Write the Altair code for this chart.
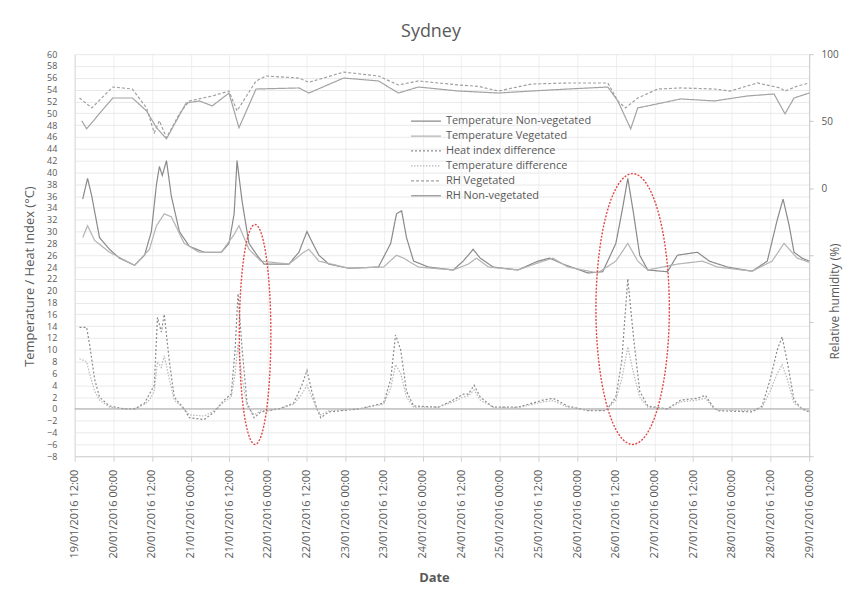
import altair as alt
import numpy as np
import pandas as pd

START = pd.Timestamp("2016-01-19 12:00")

SERIES = ["Temperature Non-vegetated", "Temperature Vegetated", "Heat index difference",
          "Temperature difference", "RH Vegetated", "RH Non-vegetated"]
COLORS = ["#8a8a8a", "#b3b3b3", "#8a8a8a", "#b8b8b8", "#a0a0a0", "#a3a3a3"]
DASHES = [[1, 0], [1, 0], [2, 2], [1.5, 1.5], [3, 2], [1, 0]]

# hours after 19/01/2016 12:00
TNV_H = [2.5, 4.0, 5.3, 7.7, 10.8, 13.9, 18.6, 21.7, 23.8, 25.4, 26.3, 27.2, 28.5, 30.0, 32.5, 35.6,
         40.2, 45.5, 47.9, 49.5, 50.4, 52.0, 54.1, 56.6, 58.8, 66.5, 69.6, 72.1, 73.9, 75.8, 78.9,
         85.1, 94.3, 98.1, 99.9, 101.5, 103.0, 105.2, 109.8, 117.5, 120.6, 123.7, 125.9, 129.9,
         137.6, 143.8, 147.5, 151.6, 159.3, 163.9, 168.0, 170.1, 171.7, 173.5, 175.4, 177.9, 184.0,
         187.1, 193.3, 197.0, 202.6, 210.3, 215.0, 218.1, 219.9, 221.8, 223.3, 225.8, 228.0]
TNV = [35.5, 39, 36, 29, 27, 25.5, 24.3, 26, 30, 38, 41, 39.5, 42, 36, 30, 27.5,
       26.5, 26.5, 28, 33, 42, 35, 28, 26, 24.5, 24.5, 26.5, 30, 28, 26, 24.5,
       23.8, 24, 28, 33, 33.5, 29, 25, 24, 23.5, 25, 27, 25.5, 24,
       23.5, 25, 25.5, 24.5, 23, 23.2, 28, 34, 39, 33, 26, 23.5, 23.2,
       26, 26.5, 25, 24, 23.3, 25, 32, 35.5, 31, 26.5, 25.5, 25]

TV_H = [2.5, 4.0, 6.2, 10.8, 18.6, 23.2, 25.4, 27.8, 30.0, 34.0, 38.7, 45.5, 49.5, 51.0, 54.1, 57.8,
        66.5, 71.1, 72.7, 75.8, 85.1, 95.9, 99.9, 102.1, 106.7, 117.5, 122.2, 124.7, 128.4, 137.6,
        145.4, 148.5, 153.1, 162.4, 168.0, 171.7, 174.8, 177.9, 187.1, 194.9, 199.5, 210.3, 216.5,
        220.2, 224.3, 228.0]
TV = [29, 31, 28.5, 26.5, 24.3, 27, 31, 33, 32.5, 28, 26.5, 26.5, 29.5, 31, 27, 25,
      24.5, 26.5, 27, 25, 23.8, 24, 26, 25.5, 24, 23.5, 24.5, 25.5, 24, 23.5,
      25, 25.5, 24, 23, 25, 28, 25, 23.5, 24.5, 25, 24, 23.3, 25,
      28, 25.5, 24.8]

DIFF_H = [1.5, 3.7, 4.6, 6.2, 7.7, 10.8, 15.5, 18.6, 21.7, 23.2, 24.7, 25.7, 26.9, 27.8, 29.4, 30.9,
          34.0, 35.6, 40.2, 43.3, 46.4, 48.6, 49.8, 50.7, 52.0, 53.5, 55.7, 57.8, 63.4, 68.0, 70.5,
          72.1, 73.6, 75.2, 76.4, 78.9, 88.2, 95.9, 98.1, 99.6, 101.2, 103.0, 105.2, 112.9, 117.5,
          120.6, 122.2, 124.0, 125.9, 129.9, 137.6, 145.4, 148.5, 153.1, 159.3, 164.9, 168.0, 169.8,
          171.7, 173.5, 175.4, 177.9, 184.0, 188.1, 193.3, 195.8, 198.0, 199.5, 210.3, 213.4, 215.9,
          218.1, 219.6, 221.2, 223.3, 225.8, 228.0]
HI_DIFF = [13.8, 13.8, 11, 5, 2, 0.5, 0, 0, 1, 2.5, 4, 15.5, 13, 16, 8, 2,
           0, -1.5, -1.8, -0.5, 1.5, 2.5, 10, 19.5, 10, 1, -1.5, -0.5, 0, 1, 4,
           6.5, 3, 0, -1.5, -0.5, 0, 1, 5, 12.5, 10, 3, 0.5, 0.3, 1.5,
           2.5, 2.5, 4, 2, 0.3, 0.3, 1.5, 1.8, 0.5, -0.3, -0.3, 2, 8,
           22, 12, 3, 0.5, 0, 1.5, 1.8, 2.3, 0.5, -0.3, -0.5, 0.5, 5,
           10, 12.2, 8, 1.5, 0, -0.5]
T_DIFF = [8.5, 8, 6, 3, 1.5, 0.3, 0, 0, 0.8, 1.5, 3, 8, 7, 9, 5, 1.5,
          0, -1, -1.2, -0.3, 1.2, 2, 6, 11, 5, 0.5, -1, -0.3, 0, 0.8, 2.5,
          4, 2, 0, -1, -0.3, 0, 0.8, 3.5, 7.5, 6, 2, 0.3, 0.3, 1.2,
          2, 2.2, 3.2, 1.5, 0.3, 0.2, 1.2, 1.4, 0.3, -0.2, -0.2, 1.5, 5,
          10.5, 6, 2, 0.3, 0, 1.2, 1.5, 1.8, 0.3, -0.2, -0.3, 0.3, 3,
          6, 7.5, 5, 1, 0, -0.3]

RHV_H = [1.5, 5.3, 11.8, 17.9, 22.3, 24.7, 26.3, 28.5, 32.5, 35.6, 42.7, 47.9, 50.4, 56.3, 59.4,
         69.6, 72.7, 83.5, 94.3, 100.5, 106.7, 119.1, 125.3, 131.5, 141.7, 153.1, 165.5, 168.6,
         171.0, 174.8, 181.0, 188.1, 198.6, 203.5, 211.9, 219.0, 220.5, 224.3, 228.0]
RHV = [67.3, 59.9, 75.5, 74, 59.9, 41.4, 50.3, 37.6, 55.5, 65.1, 68.8, 72.5, 57.7, 80, 83.7,
       82.2, 79, 86.6, 83.7, 77, 80, 77, 76, 72.5, 77.7, 78.5, 78.5, 65.1,
       59.9, 67.3, 74, 74.8, 74, 72.5, 78.5, 74.8, 72.5, 76.2, 78.5]

RHN_H = [2.2, 3.7, 11.8, 17.9, 22.3, 25.4, 28.5, 34.6, 38.7, 42.7, 47.9, 51.0, 56.3, 69.6, 72.7,
         83.5, 94.3, 100.5, 106.7, 119.1, 131.5, 141.7, 153.1, 165.5, 168.6, 172.6, 174.8, 177.9,
         188.1, 198.6, 208.8, 217.1, 220.5, 223.3, 228.0]
RHN = [50.3, 44.3, 67.3, 67.3, 57.7, 45.1, 36.9, 63.6, 65.1, 61.4, 71, 45.1, 74, 74.8, 71,
       82.2, 80, 71, 75.5, 72.5, 71, 72.5, 74, 75.5, 65.1, 44.3, 59.9, 61.4,
       66.6, 65.1, 68.8, 70.3, 55.5, 67.3, 71]

# annotation ellipses (centre hour, centre value, half-width hours, half-height degC)
ELL_CENTER_H = [56.0, 173.2]
ELL_CENTER_V = [12.6, 16.9]
ELL_HALF_H = [4.9, 11.4]
ELL_HALF_V = [18.6, 22.9]

X_TICKS = [(19, 12)] + [(d, h) for d in range(20, 29) for h in (0, 12)] + [(29, 0)]
LEFT_TICKS = list(range(-8, 61, 2))
RIGHT_TICKS = [-200, -150, -100, -50, 0, 50, 100]


def iso(h):
    return (START + pd.Timedelta(hours=h)).strftime("%Y-%m-%dT%H:%M:%S")


def frame(hours, values, name):
    return pd.DataFrame({"time": [iso(h) for h in hours], "value": values, "series": name})


temp_df = pd.concat([frame(TNV_H, TNV, SERIES[0]), frame(TV_H, TV, SERIES[1]),
                     frame(DIFF_H, HI_DIFF, SERIES[2]), frame(DIFF_H, T_DIFF, SERIES[3])])
rh_df = pd.concat([frame(RHV_H, RHV, SERIES[4]), frame(RHN_H, RHN, SERIES[5])])

rows = []
theta = np.linspace(0, 2 * np.pi, 81)
for e in range(len(ELL_CENTER_H)):
    for i, th in enumerate(theta):
        rows.append({"time": iso(ELL_CENTER_H[e] + ELL_HALF_H[e] * np.cos(th)),
                     "value": ELL_CENTER_V[e] + ELL_HALF_V[e] * np.sin(th),
                     "eid": e, "idx": i})
ell_df = pd.DataFrame(rows)
zero_df = pd.DataFrame({"value": [0]})

FONT = "Open Sans"
GREY = "#595959"

x_enc = alt.X(
    "time:T",
    scale=alt.Scale(domain=[alt.DateTime(year=2016, month=1, date=19, hours=12),
                            alt.DateTime(year=2016, month=1, date=29, hours=0)]),
    axis=alt.Axis(values=[alt.DateTime(year=2016, month=1, date=d, hours=h) for d, h in X_TICKS],
                  format="%d/%m/%Y %H:%M", labelAngle=270, labelFontSize=11, labelColor=GREY,
                  labelPadding=8, labelOverlap=False, tickSize=5, tickColor="#d0d0d0",
                  domainColor="#d0d0d0", grid=True, gridColor="#efefef",
                  title="Date", titleFontSize=13, titleFontWeight="bold", titleColor=GREY,
                  titleX=361, titleY=122, titleAlign="center", titleBaseline="middle"),
)

y_left = alt.Y(
    "value:Q",
    scale=alt.Scale(domain=[-8, 60], nice=False, zero=False),
    axis=alt.Axis(values=LEFT_TICKS, labelFontSize=9, labelColor=GREY, labelPadding=18,
                  labelOverlap=False, tickSize=0, domain=True, domainColor="#d9d9d9",
                  grid=True, gridColor="#e9e9e9",
                  title="Temperature / Heat Index (°C)", titleFontSize=13, titleFontWeight="normal",
                  titleColor=GREY, titleAngle=270, titleX=-45, titleY=223, titleAlign="center",
                  titleBaseline="middle"),
)

y_right = alt.Y(
    "value:Q",
    scale=alt.Scale(domain=[-200, 100], nice=False, zero=False),
    axis=alt.Axis(orient="right", values=RIGHT_TICKS,
                  labelExpr="datum.value >= 0 ? datum.label : ''",
                  labelFontSize=10, labelColor=GREY, labelPadding=8, tickSize=4,
                  tickColor="#c8c8c8", domainColor="#c8c8c8", grid=False,
                  title="Relative humidity (%)", titleFontSize=12, titleFontWeight="normal",
                  titleColor=GREY, titleAngle=270, titleX=25, titleY=248, titleAlign="center",
                  titleBaseline="middle"),
)

legend = alt.Legend(title=None, orient="none", legendX=337, legendY=60, symbolType="stroke",
                    symbolSize=900, symbolStrokeWidth=1.3, clipHeight=14.5, rowPadding=0,
                    labelFontSize=11, labelColor=GREY, labelFont=FONT, labelOffset=4, padding=0)

color_enc = alt.Color("series:N", scale=alt.Scale(domain=SERIES, range=COLORS), legend=legend)
dash_enc = alt.StrokeDash("series:N", scale=alt.Scale(domain=SERIES, range=DASHES), legend=legend)

temp_lines = alt.Chart(temp_df).mark_line(strokeWidth=1.2).encode(
    x=x_enc, y=y_left, color=color_enc, strokeDash=dash_enc)
zero_rule = alt.Chart(zero_df).mark_rule(color="#a6a6a6", strokeWidth=1).encode(y=y_left)
ellipses = alt.Chart(ell_df).mark_line(color="#e04848", strokeWidth=1.4, strokeDash=[2, 1.5]).encode(
    x=x_enc, y=y_left, detail="eid:N", order="idx:Q")

left = alt.layer(zero_rule, temp_lines, ellipses)
right = alt.Chart(rh_df).mark_line(strokeWidth=1.2).encode(
    x=x_enc, y=y_right, color=color_enc, strokeDash=dash_enc)

chart = alt.layer(left, right).resolve_scale(y="independent").properties(
    width=738, height=404,
    autosize=alt.AutoSizeParams(type="none"),
    padding={"left": 67, "top": 45, "right": 34, "bottom": 133},
    title=alt.TitleParams("Sydney", fontSize=18, font=FONT, fontWeight="normal", color=GREY,
                          anchor="middle", offset=8, dx=-11),
).configure(font=FONT, background="white").configure_view(stroke=None)

chart.save("out.html", embed_options={"renderer": "svg", "actions": False})
